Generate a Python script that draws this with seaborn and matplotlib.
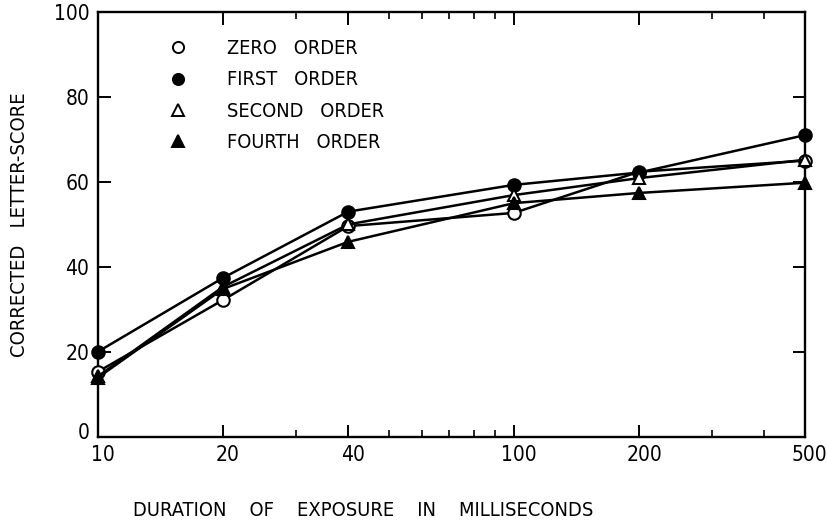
import matplotlib
matplotlib.use("Agg")
import matplotlib.pyplot as plt
import matplotlib.ticker as mticker
import matplotlib.transforms as mtrans
from matplotlib.lines import Line2D
import seaborn as sns
import pandas as pd

durations = [10, 20, 40, 100, 200, 500]
zero_order = [15.3, 32.2, 49.6, 52.7, 62.4, 65.0]
first_order = [20.0, 37.4, 53.0, 59.3, 62.2, 71.0]
second_order = [14.2, 35.3, 50.0, 56.9, 60.9, 65.2]
fourth_order = [13.9, 34.8, 45.9, 55.0, 57.4, 59.8]
series_names = ["ZERO   ORDER", "FIRST   ORDER", "SECOND   ORDER", "FOURTH   ORDER"]
x_tick_labels = ["10", "20", "40", "100", "200", "500"]
x_minor = [30, 50, 60, 70, 80, 90, 300, 400]
y_ticks = [0, 20, 40, 60, 80, 100]

sns.set_theme(style="ticks")
plt.rcParams["font.family"] = ["DejaVu Sans"]
plt.rcParams["font.stretch"] = "condensed"
plt.rcParams["text.color"] = "black"
plt.rcParams["axes.labelcolor"] = "black"
plt.rcParams["xtick.color"] = "black"
plt.rcParams["ytick.color"] = "black"

fig = plt.figure(figsize=(8.28, 5.2), dpi=100)
ax = fig.add_axes([0.118, 0.160, 0.854, 0.817])

values = [zero_order, first_order, second_order, fourth_order]
styles = [
    dict(marker="o", markerfacecolor="white"),
    dict(marker="o", markerfacecolor="black"),
    dict(marker="^", markerfacecolor="white"),
    dict(marker="^", markerfacecolor="black"),
]
handles = []
for name, vals, st in zip(series_names, values, styles):
    df = pd.DataFrame({"x": durations, "y": vals})
    sns.lineplot(data=df, x="x", y="y", ax=ax, color="black", linewidth=1.8,
                 markersize=9, markeredgecolor="black", markeredgewidth=1.5,
                 zorder=3, clip_on=False, **st)
    handles.append(Line2D([], [], linestyle="none", color="black",
                          markeredgecolor="black", markersize=8,
                          markeredgewidth=1.4, **st))

ax.set_xscale("log")
ax.set_xlim(10, 500)
ax.set_ylim(0, 100)
ax.xaxis.set_major_locator(mticker.FixedLocator(durations))
ax.xaxis.set_major_formatter(mticker.FixedFormatter(x_tick_labels))
ax.xaxis.set_minor_locator(mticker.FixedLocator(x_minor))
ax.xaxis.set_minor_formatter(mticker.NullFormatter())
ax.set_yticks(y_ticks)
ax.set_yticklabels([str(v) for v in y_ticks])

for s in ax.spines.values():
    s.set_visible(True)
    s.set_linewidth(1.7)
    s.set_color("black")

ax.tick_params(axis="both", which="major", direction="in", length=9, width=1.4,
               top=True, right=True, labelsize=15, colors="black", pad=6)
ax.tick_params(axis="x", which="minor", direction="in", length=5, width=1.2,
               top=True, bottom=True)
ax.tick_params(axis="y", which="major", pad=6)

# nudge tick labels slightly as in the hand-lettered original
shift_x = mtrans.ScaledTranslation(5 / 100, 0, fig.dpi_scale_trans)
for lab in ax.get_xticklabels():
    lab.set_transform(lab.get_transform() + shift_x)
shift_up = mtrans.ScaledTranslation(0, 6 / 100, fig.dpi_scale_trans)
ylabs = ax.get_yticklabels()
ylabs[0].set_transform(ylabs[0].get_transform() + shift_up)

ax.set_xlabel("")
ax.set_ylabel("CORRECTED   LETTER-SCORE", fontsize=14.5, labelpad=18, color="black")
fig.text(133 / 828, 1 - 510 / 520, "DURATION    OF    EXPOSURE    IN    MILLISECONDS",
         fontsize=14.4, ha="left", va="center", color="black")

leg = ax.legend(handles, series_names, loc="upper left",
                bbox_to_anchor=(0.074, 0.978), frameon=False, fontsize=14.3,
                handlelength=1.0, handletextpad=2.0, labelspacing=0.62,
                labelcolor="black")

fig.savefig("out.png", dpi=100)
